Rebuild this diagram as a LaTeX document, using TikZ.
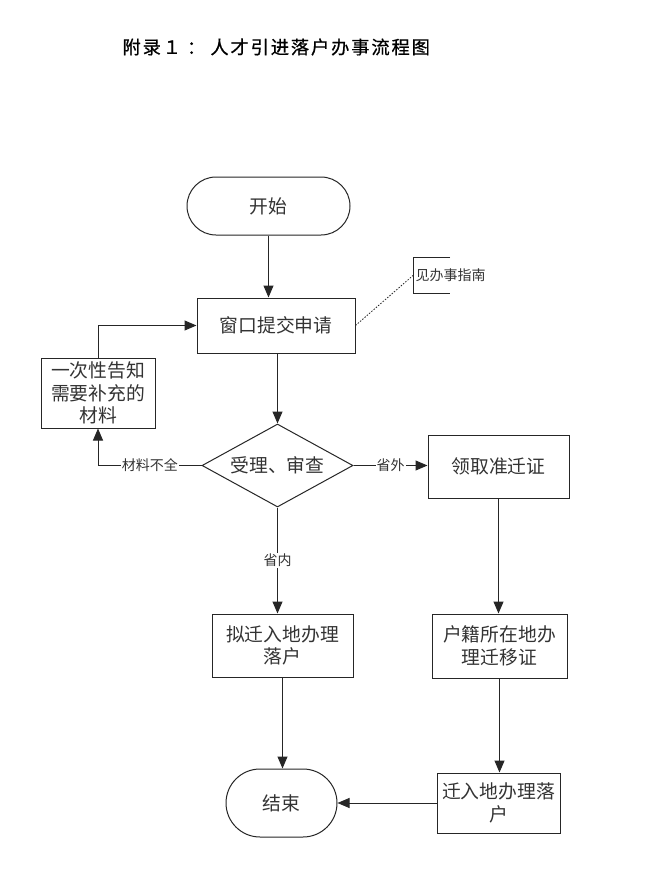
\documentclass[tikz,border=0pt]{standalone}
\usepackage{fontspec}
\setmainfont{Noto Sans CJK SC}
\newfontfamily\titlefont[FakeBold=0.6,LetterSpace=10]{Noto Sans CJK SC}
\usetikzlibrary{arrows.meta,shapes.geometric,calc}
\begin{document}
\begin{tikzpicture}[x=1pt,y=-1pt,
  line width=1pt,
  every node/.style={text=black!80},
  box/.style={draw=black!85, rectangle, inner sep=1pt, align=center, font=\fontsize{18.8}{22.5}\selectfont},
  term/.style={box},
  lbl/.style={fill=white, inner sep=1pt, font=\fontsize{14}{16}\selectfont},
  conn/.style={draw=black!85, line width=1pt},
  arr/.style={conn, -{Triangle[length=12pt,width=10pt]}}
]
\path[fill=white] (0,0) rectangle (653,880);
\useasboundingbox (0,0) rectangle (653,880);

\node (title) [anchor=west, inner sep=0pt, text=black, font=\titlefont\fontsize{18.3}{20}\selectfont] at (122,47) {附录１\hspace{6pt}：\hspace{5pt}人才引进落户办事流程图};

\node (start) [term, rounded corners=29pt, minimum width=163pt, minimum height=58pt] at (268.5,206) {开始};
\node (sub) [box, minimum width=158pt, minimum height=55pt] at (276,325.5) {窗口提交申请};
\node (note) [anchor=west, inner sep=2pt, minimum height=35pt, font=\fontsize{14}{16}\selectfont] at (413,275.5) {见办事指南};
\draw[conn] ($(note.north west)+(37,0)$) -- (note.north west) -- (note.south west) -- ($(note.south west)+(37,0)$);
\draw[conn, line width=0.8pt, dash pattern=on 1.5pt off 1.5pt] (sub.east) -- (note.west);

\node (left) [box, minimum width=114pt, minimum height=70pt] at (98,393) {一次性告知\\需要补充的\\材料};
\node (dia) [draw=black!85, diamond, aspect=1.82, inner sep=0pt, minimum width=151pt, minimum height=83pt, font=\fontsize{18.8}{22.5}\selectfont] at (277.5,465.5) {受理、审查};
\node (lq) [box, minimum width=141pt, minimum height=63pt] at (498.5,466.5) {领取准迁证};
\node (hj) [box, minimum width=135pt, minimum height=64pt] at (499.5,646) {户籍所在地办\\理迁移证};
\node (nq) [box, minimum width=141pt, minimum height=63pt] at (282.5,645.5) {拟迁入地办理\\落户};
\node (end) [term, rounded corners=34pt, minimum width=111pt, minimum height=68pt] at (281.5,803) {结束};
\node (qr) [box, minimum width=123pt, minimum height=60pt] at (498.5,803) {迁入地办理落\\户};

\draw[arr] (start.south) -- (start.south |- sub.north);
\draw[arr] (dia.north |- sub.south) -- (dia.north);
\draw[arr] (dia.west) -- node[lbl] {材料不全} (left.south |- dia.west) -- (left.south);
\draw[arr] (left.north) -- (left.north |- sub.west) -- (sub.west);
\draw[arr] (dia.east) -- node[lbl] {省外} (dia.east -| lq.west);
\draw[arr] (lq.south) -- (lq.south |- hj.north);
\draw[arr] (dia.south) -- node[lbl] {省内} (dia.south |- nq.north);
\draw[arr] (nq.south) -- (nq.south |- end.north);
\draw[arr] (hj.south) -- (hj.south |- qr.north);
\draw[arr] (qr.west) -- (qr.west -| end.east);
\end{tikzpicture}
\end{document}
